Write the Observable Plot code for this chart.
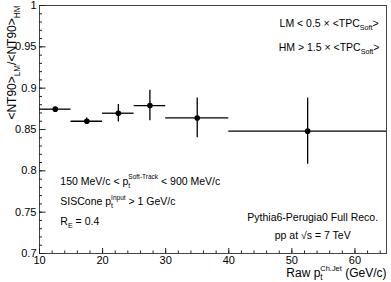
<!DOCTYPE html>
<html><head><meta charset="utf-8">
<script src="https://cdn.jsdelivr.net/npm/d3@7"></script>
<script src="https://cdn.jsdelivr.net/npm/@observablehq/plot@0.6"></script>
<style>
body{margin:0;background:#fff}
svg{font-family:"Liberation Sans",Arial,Helvetica,sans-serif}
</style>
</head><body><div id="chart"></div>
<script>
// ---- data ----
const binLow   = [10, 15, 20, 25, 30, 40];
const binHigh  = [15, 20, 25, 30, 40, 65];
const ratio    = [0.8746, 0.860, 0.8697, 0.879, 0.864, 0.848];
const ratioErr = [0.002, 0.004, 0.0105, 0.0185, 0.024, 0.040];

const xTicks = [10, 20, 30, 40, 50, 60];
const xTickLabels = ["10", "20", "30", "40", "50", "60"];
const xMinorTicks = d3.range(10, 65, 2);
const yTicks = [0.7, 0.75, 0.8, 0.85, 0.9, 0.95, 1];
const yTickLabels = ["0.7", "0.75", "0.8", "0.85", "0.9", "0.95", "1"];
const yMinorTicks = d3.range(70, 101, 1).map(d => d / 100);

const yTitle = "<NT90>_{LM}/<NT90>_{HM}";
const xTitle = "Raw p_{t}^{Ch.Jet} (GeV/c)";

// annotations: text, x, y (data coords), anchor
const noteText = [
  "LM < 0.5 × <TPC_{Soft}>",
  "HM > 1.5 × <TPC_{Soft}>",
  "150 MeV/c < p_{t}^{Soft-Track} < 900 MeV/c",
  "SISCone p_{t}^{Input} > 1 GeV/c",
  "R_{E} = 0.4",
  "Pythia6-Perugia0 Full Reco.",
  "pp at √s = 7 TeV"
];
const noteX = [55.9, 55.9, 13.3, 13.3, 13.3, 53.3, 53.3];
const noteY = [0.9786, 0.9492, 0.7875, 0.7629, 0.739, 0.7432, 0.7214];
const noteAnchor = ["middle", "middle", "start", "start", "start", "middle", "middle"];

const bins = binLow.map((lo, i) => ({
  lo, hi: binHigh[i], c: (lo + binHigh[i]) / 2, v: ratio[i], e: ratioErr[i]
}));
const notes = noteText.map((t, i) => ({t, x: noteX[i], y: noteY[i], a: noteAnchor[i]}));

const ink = "#222";

const chart = Plot.plot({
  width: 391,
  height: 282,
  marginLeft: 39,
  marginRight: 5,
  marginTop: 5,
  marginBottom: 29,
  style: {fontFamily: '"Liberation Sans", Arial, sans-serif', background: "#fff"},
  x: {domain: [10, 65]},
  y: {domain: [0.7, 1]},
  marks: [
    Plot.frame({stroke: "#444", strokeWidth: 1}),
    // x ticks (inside)
    Plot.axisX(xMinorTicks, {tickSize: -2.5, text: null, label: null, stroke: ink}),
    Plot.axisX(xTicks, {tickSize: -5, text: null, label: null, stroke: ink}),
    Plot.axisX(xTicks, {tickSize: 0, tickPadding: 3, label: null, fontSize: 11, fill: "#000",
      tickFormat: (d) => xTickLabels[xTicks.indexOf(d)]}),
    // y ticks (inside)
    Plot.axisY(yMinorTicks, {tickSize: -3, text: null, label: null, stroke: ink}),
    Plot.axisY(yTicks, {tickSize: -6.5, text: null, label: null, stroke: ink}),
    Plot.axisY(yTicks, {tickSize: 0, tickPadding: 3, label: null, fontSize: 11, fill: "#000",
      tickFormat: (d) => yTickLabels[yTicks.indexOf(d)]}),
    // error bars
    Plot.ruleY(bins, {y: "v", x1: "lo", x2: "hi", stroke: "#000", strokeWidth: 1.3}),
    Plot.ruleX(bins, {x: "c", y1: d => d.v - d.e, y2: d => d.v + d.e, stroke: "#000", strokeWidth: 1.3}),
    Plot.dot(bins, {x: "c", y: "v", r: 2.8, fill: "#000", stroke: null}),
    // annotations
    Plot.text(notes.filter(d => d.a === "start"), {x: "x", y: "y", text: "t", textAnchor: "start", fontSize: 10.5, fill: "#000"}),
    Plot.text(notes.filter(d => d.a === "middle"), {x: "x", y: "y", text: "t", textAnchor: "middle", fontSize: 10.5, fill: "#000"}),
    // axis titles
    Plot.text([yTitle], {frameAnchor: "top-left", rotate: -90, textAnchor: "end", lineAnchor: "bottom",
      dx: -23.5, dy: 0, fontSize: 12, fill: "#000"}),
    Plot.text([xTitle], {frameAnchor: "bottom-right", textAnchor: "end", lineAnchor: "bottom",
      dx: 0, dy: 23, fontSize: 12, fill: "#000"})
  ]
});

document.getElementById("chart").appendChild(chart);

// convert _{..} and ^{..} into sub/superscript tspans
function richText(root) {
  d3.select(root).selectAll("text").each(function() {
    const el = this;
    const s = el.textContent;
    if (!/[_^]\{/.test(s)) return;
    const fs = parseFloat(getComputedStyle(el).fontSize) || 10;
    const tokens = [];
    const re = /([_^])\{([^}]*)\}|([^_^]+)/g;
    let m;
    while ((m = re.exec(s))) {
      if (m[3] !== undefined) tokens.push({type: "n", t: m[3]});
      else tokens.push({type: m[1] === "_" ? "sub" : "sup", t: m[2]});
    }
    el.textContent = "";
    let shift = 0;
    let prev = null;
    let prevW = 0;
    for (const tk of tokens) {
      const ts = document.createElementNS("http://www.w3.org/2000/svg", "tspan");
      let target = 0, size = fs;
      if (tk.type === "sub") { target = 0.32 * fs; size = 0.68 * fs; }
      if (tk.type === "sup") { target = -0.48 * fs; size = 0.62 * fs; }
      ts.setAttribute("dy", (target - shift).toFixed(2));
      ts.setAttribute("font-size", size.toFixed(2));
      if (prev && prev !== "n" && tk.type !== "n" && prev !== tk.type) {
        ts.setAttribute("dx", (-prevW).toFixed(2));
      }
      ts.textContent = tk.t;
      el.appendChild(ts);
      shift = target;
      prevW = ts.getComputedTextLength();
      prev = tk.type;
    }
  });
}
richText(chart);
</script>
</body></html>
